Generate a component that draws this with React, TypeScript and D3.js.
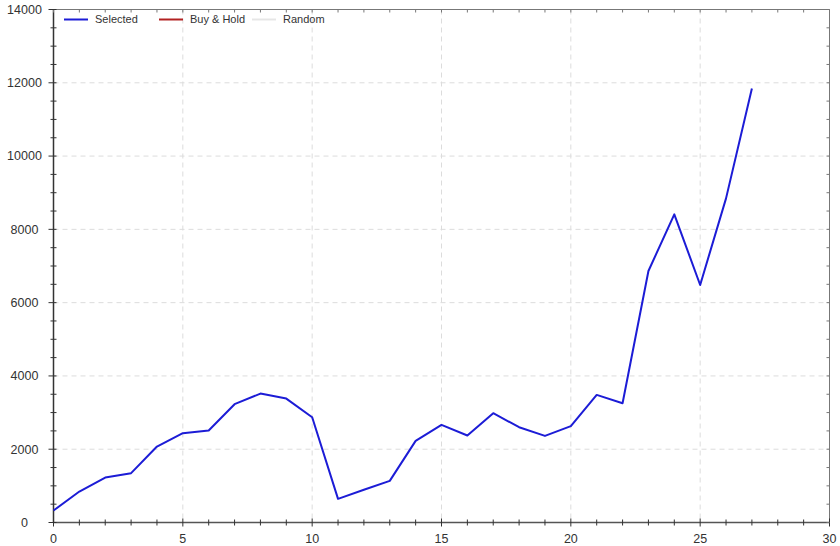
import React from "react";
import * as d3 from "d3";

const xValues = Array.from({ length: 28 }, (_, i) => i);
const selected = [327, 845, 1227, 1347, 2073, 2438, 2509, 3229, 3518, 3382, 2874, 646, 892, 1137, 2228, 2664, 2373, 2983, 2601, 2364, 2629, 3482, 3256, 6864, 8410, 6482, 8846, 11846];
const xTicks = [0, 5, 10, 15, 20, 25, 30];
const yTicks = [0, 2000, 4000, 6000, 8000, 10000, 12000, 14000];
const legendItems = [
  { label: "Selected", color: "#1c1cd6" },
  { label: "Buy & Hold", color: "#b22222" },
  { label: "Random", color: "#e6e6e6" },
];

const W = 840, H = 546;
const L = 53.5, R = 829.5, T = 9.5, B = 522.5;

export default function App() {
  const x = d3.scaleLinear().domain([0, 30]).range([L, R]);
  const y = d3.scaleLinear().domain([0, 14000]).range([B, T]);
  const line = d3.line<number>().x((_, i) => x(xValues[i])).y((d) => y(d));
  const xMinor = d3.range(0, 31, 1);
  const yMinor = d3.range(0, 14001, 500);
  const font = "'Liberation Sans', Arial, sans-serif";
  const legendX = [64, 159, 252];
  return (
    <svg width={W} height={H} style={{ position: "absolute", left: 0, top: 0 }}>
      <rect x={0} y={0} width={W} height={H} fill="#fff" />
      {xTicks.slice(1, -1).map((t) => (
        <line key={"gx" + t} x1={x(t)} x2={x(t)} y1={T} y2={B} stroke="#dcdcdc" strokeDasharray="5,4" />
      ))}
      {yTicks.slice(1, -1).map((t) => (
        <line key={"gy" + t} x1={L} x2={R} y1={y(t)} y2={y(t)} stroke="#dcdcdc" strokeDasharray="5,4" />
      ))}
      <line x1={L} x2={R} y1={T} y2={T} stroke="#777" />
      <line x1={R} x2={R} y1={T} y2={B} stroke="#777" />
      <line x1={L} x2={R} y1={B} y2={B} stroke="#555" strokeWidth={1.5} />
      <line x1={L} x2={L} y1={T} y2={B} stroke="#333" strokeWidth={1.5} />
      {xMinor.map((t) => {
        const major = t % 5 === 0;
        return (
          <g key={"xt" + t}>
            <line x1={x(t)} x2={x(t)} y1={B - (major ? 4 : 3)} y2={B + (major ? 4 : 3)} stroke="#333" />
            <line x1={x(t)} x2={x(t)} y1={T} y2={T + 3} stroke="#777" />
          </g>
        );
      })}
      {yMinor.map((t) => {
        const major = t % 2000 === 0;
        return (
          <g key={"yt" + t}>
            <line x1={L - (major ? 5 : 3)} x2={L + 3} y1={y(t)} y2={y(t)} stroke="#333" />
            <line x1={R - 3} x2={R} y1={y(t)} y2={y(t)} stroke="#777" />
          </g>
        );
      })}
      {xTicks.map((t) => (
        <text key={"xl" + t} x={x(t)} y={543} textAnchor="middle" fontFamily={font} fontSize={12.5} fill="#333">
          {t}
        </text>
      ))}
      {yTicks.map((t) => (
        <text key={"yl" + t} x={24.5} y={y(t)} dy="0.35em" textAnchor="middle" fontFamily={font} fontSize={12.5} fill="#333">
          {t}
        </text>
      ))}
      <path d={line(selected) || ""} fill="none" stroke={legendItems[0].color} strokeWidth={2} strokeLinejoin="round" />
      {legendItems.map((it, i) => (
        <g key={it.label}>
          <line x1={legendX[i]} x2={legendX[i] + 24} y1={19.5} y2={19.5} stroke={it.color} strokeWidth={2} />
          <text x={legendX[i] + 31} y={19.5} dy="0.35em" fontFamily={font} fontSize={11} fill="#333">
            {it.label}
          </text>
        </g>
      ))}
    </svg>
  );
}
